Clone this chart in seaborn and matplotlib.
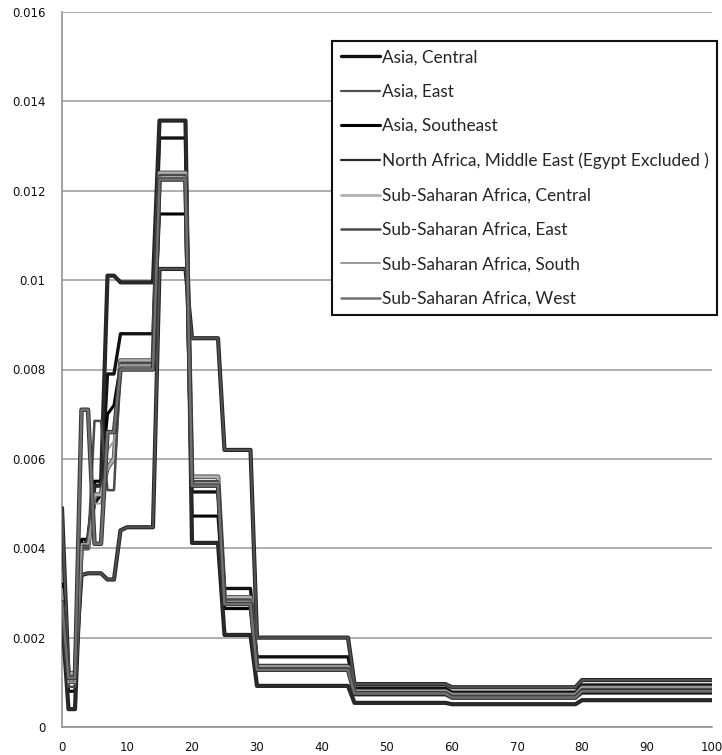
import numpy as np
import pandas as pd
import matplotlib
matplotlib.use("Agg")
import matplotlib.pyplot as plt
import matplotlib.patheffects as pe
import seaborn as sns

# ---------------- data ----------------
ages = [0, 1, 2, 3, 4, 5, 6, 7, 8, 9, 10, 14, 15, 19, 20, 24, 25, 29, 30, 44, 45, 59, 60, 79, 80, 100]

regions = [
    "Asia, Central",
    "Asia, East",
    "Asia, Southeast",
    "North Africa, Middle East (Egypt Excluded )",
    "Sub-Saharan Africa, Central",
    "Sub-Saharan Africa, East",
    "Sub-Saharan Africa, South",
    "Sub-Saharan Africa, West",
]

asia_central = [0.0030, 0.0010, 0.0010, 0.0041, 0.0041, 0.0050, 0.0052, 0.0079, 0.0079, 0.0088, 0.0088, 0.0088,
                0.01318, 0.01318, 0.00526, 0.00526, 0.0031, 0.0031, 0.00157, 0.00157, 0.00087, 0.00087,
                0.00078, 0.00078, 0.00094, 0.00094]
asia_east = [0.0049, 0.0012, 0.0012, 0.0034, 0.00344, 0.00344, 0.00344, 0.0033, 0.0033, 0.0044, 0.00447, 0.00447,
             0.01025, 0.01025, 0.0087, 0.0087, 0.0062, 0.0062, 0.0020, 0.0020, 0.00096, 0.00096,
             0.00089, 0.00089, 0.00105, 0.00105]
asia_southeast = [0.0032, 0.0008, 0.0008, 0.0042, 0.0042, 0.0055, 0.0055, 0.0070, 0.0072, 0.0081, 0.0081, 0.0081,
                  0.01148, 0.01148, 0.00472, 0.00472, 0.00265, 0.00265, 0.00138, 0.00138, 0.00072, 0.00072,
                  0.00065, 0.00065, 0.00076, 0.00076]
north_africa = [0.0025, 0.0004, 0.0004, 0.0040, 0.0042, 0.0054, 0.0054, 0.0101, 0.0101, 0.00995, 0.00995, 0.00995,
                0.01357, 0.01357, 0.00412, 0.00412, 0.00206, 0.00206, 0.00092, 0.00092, 0.00054, 0.00054,
                0.00051, 0.00051, 0.00060, 0.00060]
ssa_central = [0.0027, 0.0012, 0.0012, 0.0040, 0.0040, 0.0052, 0.0052, 0.0058, 0.0060, 0.0082, 0.0082, 0.0082,
               0.0124, 0.0124, 0.0056, 0.0056, 0.0029, 0.0029, 0.00135, 0.00135, 0.00080, 0.00080,
               0.00072, 0.00072, 0.00088, 0.00088]
ssa_east = [0.0029, 0.0009, 0.0009, 0.0040, 0.0040, 0.00685, 0.00685, 0.0053, 0.0053, 0.00815, 0.00815, 0.00815,
            0.01235, 0.01235, 0.0055, 0.0055, 0.00285, 0.00285, 0.00132, 0.00132, 0.00078, 0.00078,
            0.00070, 0.00070, 0.00085, 0.00085]
ssa_south = [0.0031, 0.0010, 0.0010, 0.0041, 0.0041, 0.0050, 0.0050, 0.0062, 0.0064, 0.0081, 0.0081, 0.0081,
             0.0123, 0.0123, 0.00546, 0.00546, 0.0028, 0.0028, 0.00130, 0.00130, 0.00076, 0.00076,
             0.00068, 0.00068, 0.00082, 0.00082]
ssa_west = [0.0028, 0.0011, 0.0011, 0.0071, 0.0071, 0.0041, 0.0041, 0.0066, 0.0066, 0.0080, 0.0080, 0.0080,
            0.01225, 0.01225, 0.0054, 0.0054, 0.00275, 0.00275, 0.00128, 0.00128, 0.00075, 0.00075,
            0.00066, 0.00066, 0.00080, 0.00080]

series_values = [asia_central, asia_east, asia_southeast, north_africa,
                 ssa_central, ssa_east, ssa_south, ssa_west]

x_ticks = [0, 10, 20, 30, 40, 50, 60, 70, 80, 90, 100]
y_ticks = [0, 0.002, 0.004, 0.006, 0.008, 0.01, 0.012, 0.014, 0.016]
y_tick_labels = ["0", "0.002", "0.004", "0.006", "0.008", "0.01", "0.012", "0.014", "0.016"]

# ---------------- styling ----------------
colors = ["#111111", "#505050", "#000000", "#2a2a2a", "#b0b0b0", "#4a4a4a", "#9a9a9a", "#707070"]
widths = [2.4, 1.6, 2.2, 1.6, 2.0, 1.8, 1.4, 1.8]
outline = [None, "#222222", None, "#222222", "#555555", None, None, "#333333"]

df = pd.concat(
    [pd.DataFrame({"age": ages, "value": v, "region": r}) for r, v in zip(regions, series_values)],
    ignore_index=True,
)

sns.set_style("white")
plt.rcParams["font.family"] = ["DejaVu Sans"]

fig = plt.figure(figsize=(7.22, 7.55), dpi=100)
ax = fig.add_axes([62 / 722, 1 - 727 / 755, 650 / 722, 715 / 755])

for i, r in enumerate(regions):
    sub = df[df["region"] == r]
    sns.lineplot(data=sub, x="age", y="value", ax=ax, color=colors[i], linewidth=widths[i],
                 label=r, estimator=None, sort=False, zorder=3 + i * 0.1)
    line = ax.lines[-1]
    if outline[i] is not None:
        line.set_path_effects([pe.Stroke(linewidth=widths[i] + 1.4, foreground=outline[i]), pe.Normal()])

ax.set_xlim(0, 100)
ax.set_ylim(0, 0.016)
ax.set_xlabel("")
ax.set_ylabel("")

ax.set_yticks(y_ticks)
ax.set_yticklabels(y_tick_labels)
ax.set_xticks(x_ticks)
ax.set_xticks(np.arange(0, 101, 2), minor=True)

ax.yaxis.grid(True, color="#9a9a9a", linewidth=1.1)
ax.xaxis.grid(False)
ax.set_axisbelow(True)

for s in ["top", "right"]:
    ax.spines[s].set_visible(False)
ax.spines["left"].set_color("#8a8a8a")
ax.spines["left"].set_linewidth(1.1)
ax.spines["bottom"].set_color("#8a8a8a")
ax.spines["bottom"].set_linewidth(1.1)

ax.tick_params(axis="y", length=0, pad=12, labelsize=8.5, labelcolor="#111111")
ax.tick_params(axis="x", which="major", direction="inout", length=6, width=1, color="#8a8a8a",
               pad=7, labelsize=8.5, labelcolor="#111111")
ax.tick_params(axis="x", which="minor", direction="inout", length=4, width=0.8, color="#8a8a8a")

leg = ax.legend(loc="upper right", bbox_to_anchor=(717 / 722, 1 - 41 / 755),
                bbox_transform=fig.transFigure, frameon=True, fancybox=False,
                edgecolor="#111111", framealpha=1, borderaxespad=0,
                handlelength=2.3, handletextpad=0.1, labelspacing=1.07,
                borderpad=0.48, prop={"family": "Lato", "size": 12.4})
leg.get_frame().set_linewidth(1.5)
for h in leg.get_lines():
    h.set_path_effects([])

fig.savefig("out.png", dpi=100, facecolor="white")
